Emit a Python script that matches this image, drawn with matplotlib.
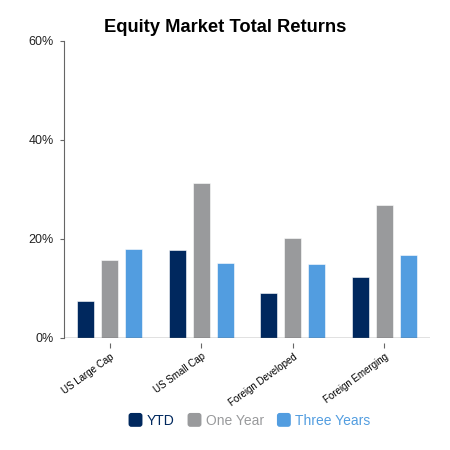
import matplotlib.pyplot as plt
import numpy as np
from matplotlib.patches import FancyBboxPatch
from matplotlib.legend_handler import HandlerPatch

plt.rcParams['font.family'] = ['Liberation Sans', 'DejaVu Sans']

categories = ["US Large Cap", "US Small Cap", "Foreign Developed", "Foreign Emerging"]
series_names = ["YTD", "One Year", "Three Years"]
ytd = [7.4, 17.8, 9.1, 12.3]
one_year = [15.7, 31.3, 20.1, 26.8]
three_years = [18.0, 15.1, 15.0, 16.8]
colors = ["#00285e", "#999a9c", "#529de0"]
y_ticks = [0, 20, 40, 60]

fig = plt.figure(figsize=(4.5, 4.5), dpi=100)
ax = fig.add_axes([0.142, 0.249, 0.814, 0.660])

# move the bottom axis down a bit so its ticks float below the zero line
ax.spines["bottom"].set_position(("outward", 3.6))
ax.spines["bottom"].set_visible(False)
ax.spines["top"].set_visible(False)
ax.spines["right"].set_visible(False)
ax.spines["left"].set_color("#666666")

x = np.arange(len(categories))
w = 0.183
step = 0.262
handles = []
for i, (vals, c) in enumerate(zip([ytd, one_year, three_years], colors)):
    b = ax.bar(x + (i - 1) * step, vals, width=w, color=c, label=series_names[i],
               edgecolor="white", linewidth=0.4, zorder=2)
    handles.append(b)

ax.set_xlim(-0.5, len(categories) - 0.5)
ax.set_ylim(0, 60)
ax.set_yticks(y_ticks)
ax.set_yticklabels([f"{t}%" for t in y_ticks], fontsize=9, color="#222222")
ax.tick_params(axis="y", length=3, color="#666666", pad=4.5)

ax.set_xticks(x)
ax.set_xticklabels(categories, rotation=36, ha="right", rotation_mode="anchor", fontsize=7)
ax.tick_params(axis="x", length=3.6, color="#666666", pad=2.5)
ax.axhline(0, color="#666666", linewidth=1, zorder=3)


class RoundBox(HandlerPatch):
    def create_artists(self, legend, orig, xd, yd, width, height, fontsize, trans):
        s = 10
        p = FancyBboxPatch((xd + (width - s) / 2, yd + (height - s) / 2), s, s,
                           boxstyle="round,pad=0,rounding_size=2",
                           facecolor=orig.patches[0].get_facecolor(), edgecolor="none",
                           transform=trans)
        return [p]


leg = fig.legend(handles=handles, labels=series_names, loc="center", bbox_to_anchor=(0.555, 0.065),
                 ncol=3, frameon=False, fontsize=10, handlelength=0.9, handletextpad=0.35,
                 columnspacing=1.0, handler_map={h: RoundBox() for h in handles})
for t, c in zip(leg.get_texts(), colors):
    t.set_color(c)

fig.text(0.5, 0.94, "Equity Market Total Returns", ha="center", va="center",
         fontsize=13.2, fontweight="bold")

fig.savefig("out.png", dpi=100)
